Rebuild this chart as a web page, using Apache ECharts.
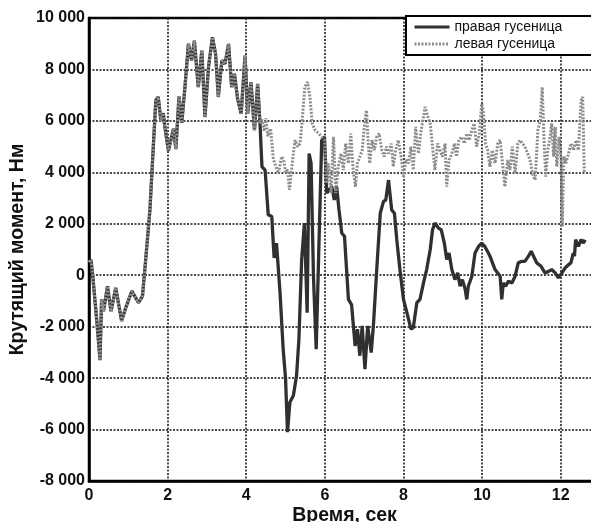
<!DOCTYPE html>
<html>
<head>
<meta charset="utf-8">
<script src="https://cdn.jsdelivr.net/npm/echarts@6/dist/echarts.min.js"></script>
<style>
  html, body { margin: 0; padding: 0; background: #fff; }
  #chart { width: 591px; height: 522px; }
</style>
</head>
<body>
<div id="chart"></div>
<script>
// время, сек / момент, Нм
const rightT = [0, 0.05, 0.1, 0.2, 0.28, 0.32, 0.37, 0.47, 0.56, 0.68, 0.83, 0.92, 1.09, 1.26, 1.36, 1.42, 1.55, 1.64, 1.7, 1.76,
  1.83, 1.89, 1.93, 2.02, 2.06, 2.15, 2.21, 2.29, 2.36, 2.44, 2.53, 2.61, 2.68, 2.78, 2.87, 2.95, 3.04, 3.14, 3.22, 3.29,
  3.38, 3.46, 3.55, 3.63, 3.7, 3.78, 3.87, 3.97, 4.04, 4.12, 4.21, 4.29, 4.35, 4.4, 4.48, 4.56, 4.65, 4.71, 4.77, 4.86,
  4.94, 5.0, 5.05, 5.11, 5.2, 5.28, 5.34, 5.41, 5.48, 5.51, 5.55, 5.6, 5.65, 5.71, 5.78, 5.84, 5.92, 5.99, 6.05, 6.11,
  6.18, 6.24, 6.3, 6.36, 6.43, 6.5, 6.6, 6.68, 6.77, 6.83, 6.89, 6.95, 7.02, 7.09, 7.18, 7.24, 7.32, 7.41, 7.49, 7.55,
  7.62, 7.7, 7.77, 7.83, 7.91, 8.0, 8.11, 8.19, 8.25, 8.34, 8.42, 8.51, 8.59, 8.68, 8.74, 8.8, 8.89, 8.96, 9.04, 9.1,
  9.16, 9.23, 9.31, 9.38, 9.44, 9.5, 9.57, 9.61, 9.65, 9.74, 9.82, 9.91, 9.99, 10.07, 10.16, 10.2, 10.33, 10.46, 10.5, 10.54,
  10.6, 10.67, 10.76, 10.84, 10.92, 11.01, 11.09, 11.18, 11.25, 11.31, 11.39, 11.5, 11.6, 11.69, 11.77, 11.86, 11.94, 12.03, 12.11, 12.2,
  12.26, 12.32, 12.35, 12.38, 12.45, 12.52, 12.58, 12.62]
const rightV = [500, 600, -100, -1800, -3300, -940, -1400, -430, -1400, -490, -1780, -1330, -620, -1070, -810, 220, 2540, 5120, 6800, 6930,
  6000, 6300, 5770, 4840, 4800, 5700, 4900, 6950, 5920, 7300, 9000, 8350, 9120, 7310, 8730, 6150, 8090, 9250, 8600, 6930,
  8350, 8220, 8990, 7310, 7830, 6860, 6280, 8540, 6280, 7510, 5640, 7440, 5900, 4220, 4090, 2350, 2280, 670, 1250, -680,
  -2880, -4000, -6100, -4940, -4680, -3900, -2490, 610, 2030, 2090, -1460, 4730, 4350, -40, -2880, 610, 5250, 5380, 3190, 3320,
  3440, 2930, 3440, 2540, 1640, 1510, -940, -1140, -2750, -2100, -3130, -1970, -3650, -1970, -3010, -1840, 220, 2410, 2860, 2930,
  3700, 2540, 2410, 1380, 220, -940, -1590, -2100, -2040, -1070, -940, -300, 220, 990, 1770, 2030, 1830, 1770, 1250, 610,
  860, 220, -170, 90, -430, -170, -550, -940, -430, -40, 860, 1120, 1250, 1120, 860, 740, 220, -40, -940, -300,
  -430, -230, -300, -40, 480, 540, 540, 740, 930, 740, 480, 350, 90, 150, 220, 90, -100, 90, 280, 410,
  480, 860, 740, 1380, 1120, 1380, 1250, 1380]

// левая гусеница совпадает с правой до этого момента
const splitT = 4.35
const leftT = [4.4, 4.46, 4.5, 4.55, 4.62, 4.69, 4.76, 4.82, 4.9, 4.95, 5.0, 5.05, 5.1, 5.17, 5.24, 5.31, 5.37, 5.43, 5.49, 5.56,
  5.62, 5.68, 5.75, 5.84, 5.92, 5.99, 6.05, 6.09, 6.16, 6.22, 6.28, 6.34, 6.41, 6.47, 6.53, 6.6, 6.66, 6.72, 6.78, 6.83,
  6.89, 6.95, 7.02, 7.06, 7.1, 7.14, 7.2, 7.26, 7.32, 7.38, 7.45, 7.51, 7.57, 7.62, 7.69, 7.74, 7.8, 7.87, 7.94, 8.0,
  8.06, 8.13, 8.19, 8.25, 8.31, 8.38, 8.45, 8.51, 8.55, 8.62, 8.68, 8.74, 8.8, 8.87, 8.93, 8.99, 9.06, 9.1, 9.16, 9.23,
  9.3, 9.35, 9.41, 9.48, 9.55, 9.61, 9.67, 9.74, 9.8, 9.86, 9.93, 9.99, 10.03, 10.09, 10.14, 10.2, 10.26, 10.33, 10.4, 10.46,
  10.52, 10.58, 10.65, 10.71, 10.77, 10.84, 10.91, 10.97, 11.03, 11.09, 11.16, 11.22, 11.28, 11.35, 11.42, 11.48, 11.53, 11.58, 11.62, 11.67,
  11.73, 11.77, 11.82, 11.86, 11.9, 11.96, 12.01, 12.04, 12.08, 12.13, 12.2, 12.26, 12.33, 12.39, 12.45, 12.52, 12.56, 12.6]
const leftV = [6050, 5600, 6100, 5400, 5700, 4520, 4200, 3960, 4610, 4500, 4000, 4100, 3320, 4350, 5250, 5000, 5120, 6150, 7310, 7510,
  6930, 5900, 5640, 5510, 5380, 5250, 3570, 4350, 3190, 5380, 3190, 4220, 4730, 4090, 5120, 4350, 5510, 4090, 3440, 4350,
  4610, 4860, 6020, 6410, 5250, 4350, 5250, 4860, 5380, 5510, 4860, 4610, 5000, 4730, 5120, 4220, 4860, 5250, 4610, 3830,
  4480, 4350, 5000, 4090, 5770, 4730, 5640, 6150, 6540, 6150, 5900, 5000, 4090, 5120, 4860, 4610, 5120, 3440, 4480, 4730,
  5120, 4610, 5250, 5380, 5120, 5510, 5250, 5640, 5900, 5000, 5510, 6670, 6410, 5120, 4860, 4220, 4860, 4350, 5120, 5250,
  4350, 3440, 4480, 4090, 5000, 3960, 5120, 5250, 5120, 5000, 4730, 4480, 3960, 3700, 5640, 6020, 7310, 5120, 3830, 4860,
  5380, 5900, 4610, 5770, 4220, 5380, 4480, 1900, 4610, 4350, 4730, 5120, 4860, 5250, 4860, 6800, 6930, 3960]

const xTicks = [0, 2, 4, 6, 8, 10, 12]
const yTicks = [-8000, -6000, -4000, -2000, 0, 2000, 4000, 6000, 8000, 10000]

const rightData = rightT.map((t, i) => [t, rightV[i]])
const leftData = rightData.filter(p => p[0] <= splitT).concat(leftT.map((t, i) => [t, leftV[i]]))

const fmt = v => {
  const s = String(Math.abs(v)).replace(/\B(?=(\d{3})+(?!\d))/g, ' ')
  return (v < 0 ? '-' : '') + s
}

const chart = echarts.init(document.getElementById('chart'))
chart.setOption({
  animation: false,
  backgroundColor: '#fff',
  textStyle: { fontFamily: 'Liberation Sans, Arial, sans-serif' },
  grid: {
    left: 89, top: 18, width: 511, height: 463,
    outerBoundsMode: 'none',
    show: true, borderColor: '#000', borderWidth: 2.5, backgroundColor: 'transparent'
  },
  legend: {
    left: 406, top: 16,
    orient: 'vertical',
    backgroundColor: '#fff',
    borderColor: '#000', borderWidth: 2,
    padding: [4, 60, 4, 7],
    itemGap: 3,
    itemWidth: 35, itemHeight: 14,
    itemStyle: { opacity: 0 },
    lineStyle: { width: 3 },
    textStyle: { fontSize: 14, color: '#111' },
    data: ['правая гусеница', 'левая гусеница']
  },
  xAxis: {
    type: 'value',
    min: 0, max: 13, interval: 2,
    name: 'Время, сек',
    nameLocation: 'middle',
    nameGap: 25,
    nameMoveOverlap: false,
    nameTextStyle: { fontSize: 19.5, fontWeight: 'bold', color: '#111' },
    axisLine: { onZero: false, lineStyle: { color: '#000', width: 2.5 } },
    axisTick: { show: false },
    axisLabel: {
      margin: 7, fontSize: 16, fontWeight: 'bold', color: '#111',
      formatter: v => xTicks.includes(v) ? String(v) : ''
    },
    splitLine: { show: true, lineStyle: { color: '#111', width: 1.5, type: [2, 1.5] } }
  },
  yAxis: {
    type: 'value',
    min: -8000, max: 10000, interval: 2000,
    name: 'Крутящий момент, Нм',
    nameLocation: 'middle',
    nameGap: 61,
    nameMoveOverlap: false,
    nameTextStyle: { fontSize: 19.5, fontWeight: 'bold', color: '#111' },
    axisLine: { show: true, onZero: false, lineStyle: { color: '#000', width: 2.5 } },
    axisTick: { show: false },
    axisLabel: {
      margin: 4, fontSize: 16, fontWeight: 'bold', color: '#111',
      formatter: v => yTicks.includes(v) ? fmt(v) : ''
    },
    splitLine: { show: true, lineStyle: { color: '#111', width: 1.5, type: [2, 1.5] } }
  },
  series: [
    {
      name: 'правая гусеница',
      type: 'line',
      data: rightData,
      showSymbol: false,
      symbol: 'none',
      lineStyle: { color: '#303030', width: 3.3 },
      itemStyle: { color: '#303030' },
      z: 2
    },
    {
      name: 'левая гусеница',
      type: 'line',
      data: leftData,
      showSymbol: false,
      symbol: 'none',
      lineStyle: { color: '#8c8c8c', width: 3, type: [2, 1.5] },
      itemStyle: { color: '#8c8c8c' },
      z: 3
    }
  ]
})
</script>
</body>
</html>
